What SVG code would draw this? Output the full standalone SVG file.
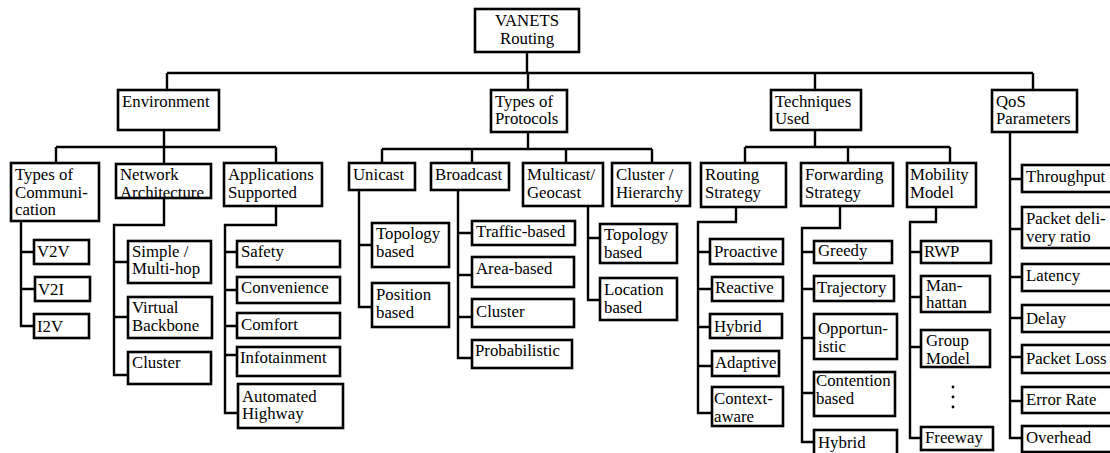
<svg xmlns="http://www.w3.org/2000/svg" width="1110" height="453" viewBox="0 0 1110 453">
  <style>
    .box { fill: #fff; stroke: #000; stroke-width: 2.6; }
    .wire { fill: none; stroke: #000; stroke-width: 2.4; }
    text { font-family: 'Liberation Serif', 'Times New Roman', serif; font-size: 16.8px; fill: #000; }
    .mid { text-anchor: middle; }
  </style>
  <rect width="1110" height="453" fill="#fff"/>

  <!-- connectors -->
  <g id="connectors" class="wire">
    <path d="M527,52 V73 M167,73 H1033 M167,73 V90 M528,73 V90 M815,73 V90 M1033,73 V90"/>
    <!-- Environment -->
    <path d="M164,130 V147 M56,147 H276 M56,147 V163 M164,147 V164 M276,147 V163"/>
    <path d="M21,221 V326 H34 M21,252 H34 M21,289 H34"/>
    <path d="M164,198 V225 H114 V375 H128 M114,262 H128 M114,317 H128"/>
    <path d="M276,206 V225 H225 V413 H238 M225,252 H237 M225,290 H237 M225,326 H237 M225,355 H237"/>
    <!-- Types of Protocols -->
    <path d="M528,132 V149 M382,149 H652 M382,149 V163 M472,149 V163 M566,149 V163 M652,149 V163"/>
    <path d="M359,190 V307 H372 M359,245 H372"/>
    <path d="M458,190 V358 H472 M458,233 H472 M458,275 H472 M458,317 H472"/>
    <path d="M588,206 V300 H600 M588,238 H600"/>
    <!-- Techniques Used -->
    <path d="M815,130 V147 M745,147 H950 M745,147 V163 M848,147 V163 M950,147 V163"/>
    <path d="M736,207 V222 H698 V413 H712 M698,252 H710 M698,289 H712 M698,327 H710 M698,366 H712"/>
    <path d="M840,206 V228 H802 V442 H814 M802,252 H814 M802,289 H814 M802,338 H814 M802,393 H814"/>
    <path d="M936,207 V222 H910 V438 H921 M910,252 H921 M910,297 H921 M910,347 H921"/>
    <!-- QoS Parameters -->
    <path d="M1010,132 V438 H1022 M1010,179 H1022 M1010,229 H1022 M1010,277 H1022 M1010,318 H1022 M1010,357 H1022 M1010,401 H1022"/>
  </g>

  <!-- root -->
  <g id="vanets-routing">
    <rect class="box" x="475" y="9" width="104" height="43"/>
    <text class="mid" x="527" y="26">VANETS</text>
    <text class="mid" x="527" y="44">Routing</text>
  </g>

  <!-- Environment branch -->
  <g id="environment">
    <rect class="box" x="118" y="90" width="101" height="40"/>
    <text x="122" y="107">Environment</text>
  </g>
  <g id="types-of-communication">
    <rect class="box" x="11" y="163" width="88" height="58"/>
    <text x="15" y="180">Types of<tspan x="15" y="198">Communi-</tspan><tspan x="15" y="215">cation</tspan></text>
  </g>
  <g id="v2v">
    <rect class="box" x="34" y="240" width="55" height="24"/>
    <text x="37" y="257">V2V</text>
  </g>
  <g id="v2i">
    <rect class="box" x="35" y="277" width="55" height="24"/>
    <text x="38" y="295">V2I</text>
  </g>
  <g id="i2v">
    <rect class="box" x="34" y="314" width="55" height="24"/>
    <text x="37" y="332">I2V</text>
  </g>
  <g id="network-architecture">
    <rect class="box" x="116" y="164" width="95" height="34"/>
    <text x="120" y="180">Network<tspan x="120" y="198">Architecture</tspan></text>
  </g>
  <g id="simple-multi-hop">
    <rect class="box" x="128" y="241" width="83" height="42"/>
    <text x="132" y="257">Simple /<tspan x="132" y="274">Multi-hop</tspan></text>
  </g>
  <g id="virtual-backbone">
    <rect class="box" x="128" y="297" width="84" height="41"/>
    <text x="132" y="313">Virtual<tspan x="132" y="331">Backbone</tspan></text>
  </g>
  <g id="cluster-network">
    <rect class="box" x="128" y="352" width="83" height="32"/>
    <text x="132" y="368">Cluster</text>
  </g>
  <g id="applications-supported">
    <rect class="box" x="224" y="163" width="98" height="43"/>
    <text x="228" y="180">Applications<tspan x="228" y="198">Supported</tspan></text>
  </g>
  <g id="safety">
    <rect class="box" x="237" y="241" width="103" height="26"/>
    <text x="241" y="257">Safety</text>
  </g>
  <g id="convenience">
    <rect class="box" x="237" y="277" width="103" height="26"/>
    <text x="241" y="293">Convenience</text>
  </g>
  <g id="comfort">
    <rect class="box" x="237" y="313" width="103" height="25"/>
    <text x="241" y="330">Comfort</text>
  </g>
  <g id="infotainment">
    <rect class="box" x="237" y="347" width="103" height="29"/>
    <text x="240" y="363">Infotainment</text>
  </g>
  <g id="automated-highway">
    <rect class="box" x="238" y="384" width="105" height="44"/>
    <text x="242" y="402">Automated<tspan x="242" y="419">Highway</tspan></text>
  </g>

  <!-- Types of Protocols branch -->
  <g id="types-of-protocols">
    <rect class="box" x="491" y="90" width="76" height="42"/>
    <text x="495" y="107">Types of<tspan x="495" y="124">Protocols</tspan></text>
  </g>
  <g id="unicast">
    <rect class="box" x="349" y="163" width="66" height="27"/>
    <text x="353" y="180">Unicast</text>
  </g>
  <g id="topology-based-unicast">
    <rect class="box" x="372" y="223" width="77" height="44"/>
    <text x="376" y="239">Topology<tspan x="376" y="257">based</tspan></text>
  </g>
  <g id="position-based">
    <rect class="box" x="372" y="283" width="77" height="44"/>
    <text x="376" y="300">Position<tspan x="376" y="318">based</tspan></text>
  </g>
  <g id="broadcast">
    <rect class="box" x="431" y="163" width="78" height="27"/>
    <text x="435" y="180">Broadcast</text>
  </g>
  <g id="traffic-based">
    <rect class="box" x="472" y="221" width="103" height="24"/>
    <text x="476" y="237">Traffic-based</text>
  </g>
  <g id="area-based">
    <rect class="box" x="472" y="257" width="102" height="30"/>
    <text x="476" y="274">Area-based</text>
  </g>
  <g id="cluster-broadcast">
    <rect class="box" x="472" y="299" width="102" height="28"/>
    <text x="476" y="317">Cluster</text>
  </g>
  <g id="probabilistic">
    <rect class="box" x="472" y="340" width="100" height="28"/>
    <text x="475" y="356">Probabilistic</text>
  </g>
  <g id="multicast-geocast">
    <rect class="box" x="523" y="163" width="80" height="43"/>
    <text x="527" y="180">Multicast/<tspan x="527" y="198">Geocast</tspan></text>
  </g>
  <g id="topology-based-multicast">
    <rect class="box" x="600" y="224" width="77" height="39"/>
    <text x="604" y="240">Topology<tspan x="604" y="258">based</tspan></text>
  </g>
  <g id="location-based">
    <rect class="box" x="600" y="278" width="77" height="42"/>
    <text x="604" y="295">Location<tspan x="604" y="313">based</tspan></text>
  </g>
  <g id="cluster-hierarchy">
    <rect class="box" x="612" y="163" width="78" height="43"/>
    <text x="616" y="180">Cluster /<tspan x="616" y="198">Hierarchy</tspan></text>
  </g>

  <!-- Techniques Used branch -->
  <g id="techniques-used">
    <rect class="box" x="771" y="90" width="90" height="40"/>
    <text x="775" y="107">Techniques<tspan x="775" y="124">Used</tspan></text>
  </g>
  <g id="routing-strategy">
    <rect class="box" x="701" y="163" width="85" height="44"/>
    <text x="705" y="180">Routing<tspan x="705" y="198">Strategy</tspan></text>
  </g>
  <g id="proactive">
    <rect class="box" x="710" y="239" width="73" height="25"/>
    <text x="714" y="257">Proactive</text>
  </g>
  <g id="reactive">
    <rect class="box" x="712" y="277" width="71" height="24"/>
    <text x="715" y="293">Reactive</text>
  </g>
  <g id="hybrid-routing">
    <rect class="box" x="710" y="314" width="72" height="24"/>
    <text x="714" y="332">Hybrid</text>
  </g>
  <g id="adaptive">
    <rect class="box" x="712" y="351" width="67" height="25"/>
    <text x="715" y="368">Adaptive</text>
  </g>
  <g id="context-aware">
    <rect class="box" x="712" y="387" width="71" height="39"/>
    <text x="714" y="404">Context-<tspan x="714" y="422">aware</tspan></text>
  </g>
  <g id="forwarding-strategy">
    <rect class="box" x="801" y="163" width="92" height="43"/>
    <text x="805" y="180">Forwarding<tspan x="805" y="198">Strategy</tspan></text>
  </g>
  <g id="greedy">
    <rect class="box" x="814" y="241" width="78" height="22"/>
    <text x="818" y="256">Greedy</text>
  </g>
  <g id="trajectory">
    <rect class="box" x="814" y="276" width="80" height="25"/>
    <text x="817" y="293">Trajectory</text>
  </g>
  <g id="opportunistic">
    <rect class="box" x="814" y="314" width="83" height="45"/>
    <text x="818" y="334">Opportun-<tspan x="818" y="352">istic</tspan></text>
  </g>
  <g id="contention-based">
    <rect class="box" x="814" y="372" width="81" height="44"/>
    <text x="816" y="386">Contention<tspan x="816" y="404">based</tspan></text>
  </g>
  <g id="hybrid-forwarding">
    <rect class="box" x="814" y="430" width="83" height="30"/>
    <text x="818" y="448">Hybrid</text>
  </g>
  <g id="mobility-model">
    <rect class="box" x="907" y="163" width="69" height="44"/>
    <text x="910" y="180">Mobility<tspan x="910" y="198">Model</tspan></text>
  </g>
  <g id="rwp">
    <rect class="box" x="921" y="241" width="70" height="22"/>
    <text x="924" y="257">RWP</text>
  </g>
  <g id="manhattan">
    <rect class="box" x="921" y="276" width="69" height="36"/>
    <text x="926" y="291">Man-<tspan x="926" y="308">hattan</tspan></text>
  </g>
  <g id="group-model">
    <rect class="box" x="921" y="330" width="69" height="37"/>
    <text x="926" y="346">Group<tspan x="926" y="364">Model</tspan></text>
  </g>
  <g id="more-models">
    <circle cx="953" cy="387" r="1.4"/>
    <circle cx="953" cy="397" r="1.4"/>
    <circle cx="953" cy="407" r="1.4"/>
  </g>
  <g id="freeway">
    <rect class="box" x="921" y="427" width="72" height="23"/>
    <text x="925" y="443">Freeway</text>
  </g>

  <!-- QoS Parameters branch -->
  <g id="qos-parameters">
    <rect class="box" x="992" y="90" width="85" height="42"/>
    <text x="996" y="107">QoS<tspan x="996" y="124">Parameters</tspan></text>
  </g>
  <g id="throughput">
    <rect class="box" x="1022" y="165" width="92" height="27"/>
    <text x="1026" y="182">Throughput</text>
  </g>
  <g id="packet-delivery-ratio">
    <rect class="box" x="1022" y="207" width="92" height="41"/>
    <text x="1026" y="224">Packet deli-<tspan x="1026" y="242">very ratio</tspan></text>
  </g>
  <g id="latency">
    <rect class="box" x="1022" y="264" width="92" height="27"/>
    <text x="1026" y="281">Latency</text>
  </g>
  <g id="delay">
    <rect class="box" x="1022" y="305" width="92" height="27"/>
    <text x="1026" y="324">Delay</text>
  </g>
  <g id="packet-loss">
    <rect class="box" x="1022" y="345" width="92" height="28"/>
    <text x="1026" y="364">Packet Loss</text>
  </g>
  <g id="error-rate">
    <rect class="box" x="1022" y="387" width="92" height="26"/>
    <text x="1026" y="405">Error Rate</text>
  </g>
  <g id="overhead">
    <rect class="box" x="1022" y="426" width="92" height="26"/>
    <text x="1026" y="443">Overhead</text>
  </g>
</svg>
